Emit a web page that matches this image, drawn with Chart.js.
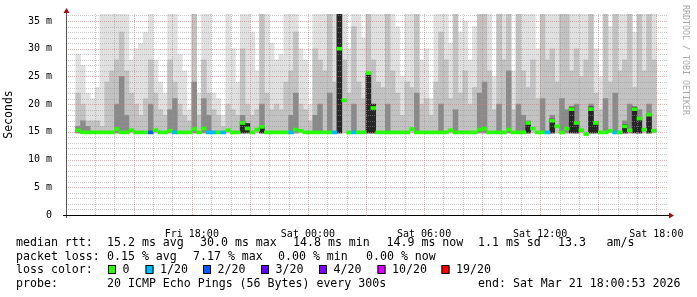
<!DOCTYPE html>
<html>
<head>
<meta charset="utf-8">
<script src="https://cdn.jsdelivr.net/npm/chart.js@4.4.0/dist/chart.umd.min.js"></script>
<style>
html, body { margin: 0; padding: 0; background: #fff; }
#wrap { width: 697px; height: 297px; }
</style>
</head>
<body>
<div id="wrap"><canvas id="smoke" width="697" height="297"></canvas></div>
<script>
// Tempo: minuti dall'inizio del grafico (Fri 12:00), un campione ogni 15 minuti
var stepMinutes = 15;
var tickMinutes = [360, 720, 1080, 1440, 1800];
var tickNames = ["Fri 18:00", "Sat 00:00", "Sat 06:00", "Sat 12:00", "Sat 18:00"];

// Fumo (smoke): limite superiore di ogni strato, in ms (37 = fuori scala)
var lightTop = [29,27,22,21,23,37,37,37,37,37,37,28,30,31,33,37,28,24,22,37,37,29,26,19,37,22,37,37,22,21,
                18,37,30,24,37,37,33,26,37,37,31,28,29,37,37,37,30,28,20,37,37,37,37,37,37,37,30,37,37,32,
                37,37,37,37,37,37,34,25,37,37,37,28,30,21,37,37,37,31,37,33,35,28,34,37,37,37,25,37,37,37,
                26,37,37,37,37,30,37,37,37,37,37,37,37,37,37,37,37,30,25,37,34,37,37,37,37,33,37,37,37,37];
var midTop = [22,20,17,17,17,16,24,26,28,33,26,22,20,18,21,28,22,19,18,28,24,20,18,17,37,18,28,22,19,18,
              16,20,19,18,30,20,18,19,37,22,19,20,19,24,26,33,20,19,17,30,28,26,37,24,37,28,22,34,24,21,
              37,28,24,23,37,26,22,18,24,23,37,20,21,18,24,33,28,21,37,22,26,20,23,37,37,26,19,37,28,37,
              19,37,26,23,28,21,37,28,30,24,37,37,26,30,25,28,37,22,19,37,24,37,26,28,37,23,37,26,37,28];
var darkTop = [16,17,16,null,null,null,null,null,20,25,18,null,null,null,null,20,null,null,null,19,21,null,null,null,24,null,21,18,null,null,
               null,null,null,null,18,null,null,null,20,null,null,null,null,null,18,22,null,null,null,18,20,null,22,null,37,null,null,20,null,null,
               25,18,null,null,20,null,null,null,null,null,22,null,null,null,null,20,null,null,19,null,null,null,null,22,24,null,null,20,null,26,
               null,20,18,17,null,null,21,null,18,null,21,19,null,20,null,null,20,null,null,21,null,22,null,17,20,null,19,null,20,null];
var blackTop = [null,null,null,null,null,null,null,null,null,null,null,null,null,null,null,null,null,null,null,null,null,null,null,null,null,null,null,null,null,null,
                null,null,null,null,16.8,16.5,null,null,15.8,null,null,null,null,null,null,null,null,null,null,null,null,null,null,null,37,null,null,null,null,null,
                25.6,20,null,null,null,null,null,null,null,null,null,null,null,null,null,null,null,null,null,null,null,null,null,null,null,null,null,null,null,null,
                null,null,null,16.8,null,null,null,null,17.3,null,null,null,19.5,16.8,null,null,19.5,16.8,null,null,null,null,null,16.3,null,19.5,17.6,null,18.3,null];
var smokeBase = 14.8;

// Mediana (ms) e perdita pacchetti (in ventesimi) per campione
var median = [15.3,14.9,14.9,14.9,14.9,14.9,14.9,14.9,15.5,14.9,14.9,15.3,14.9,14.9,14.9,14.9,15.3,14.9,14.9,15.2,14.9,14.9,14.9,14.9,15.5,14.9,15.6,14.9,14.9,14.9,
              14.9,15.3,14.9,14.9,16.6,15.6,14.9,15.4,15.9,14.9,14.9,14.9,14.9,14.9,14.9,15.4,15.2,14.9,14.9,14.9,14.9,14.9,14.9,14.9,30.0,20.7,14.9,14.9,14.9,14.9,
              25.6,19.3,14.9,14.9,14.9,14.9,14.9,14.9,14.9,15.5,14.9,14.9,14.9,14.9,14.9,14.9,14.9,15.3,14.9,14.9,14.9,14.9,14.9,15.4,15.6,14.9,14.9,14.9,14.9,15.4,
              14.9,14.9,14.9,16.6,15.6,14.9,14.9,14.9,17.0,16.0,14.9,15.6,19.1,16.6,15.3,14.6,19.1,16.6,14.9,14.9,15.2,14.9,14.9,16.0,15.3,19.1,17.4,15.4,18.1,15.2];
var loss = [0,0,0,0,0,0,0,0,0,0,0,0,0,0,0,2,0,0,0,0,1,0,0,0,0,0,0,1,1,0,
            1,0,0,0,0,0,0,0,0,0,0,0,0,0,1,0,0,0,0,0,0,0,0,1,0,0,0,1,0,0,
            0,0,0,0,0,0,0,0,0,0,0,0,0,0,0,0,0,0,0,0,0,0,0,0,0,0,0,0,0,0,
            0,0,0,0,0,0,0,1,0,0,0,0,0,0,0,0,0,0,0,0,0,1,0,0,0,0,0,0,0,0];

// Colori della perdita
var lossSteps = [0, 1, 2, 3, 4, 10, 19];
var lossNames = ["0", "1/20", "2/20", "3/20", "4/20", "10/20", "19/20"];
var lossColors = ["#26ff00", "#00b8ff", "#0059ff", "#5e00ff", "#7e00ff", "#dd00ff", "#ff0000"];

function colorFor(l) {
    return lossColors[lossSteps.indexOf(l)];
}
function mid(i) { return i * stepMinutes + stepMinutes / 2; }
function smokeData(tops) {
    var out = [];
    tops.forEach(function (v, i) {
        if (v !== null) out.push({ x: mid(i), y: [smokeBase, v] });
    });
    return out;
}
var medLine = median.map(function (m, i) { return { x: mid(i), y: [m - 0.27, m + 0.27] }; });

var barCommon = { type: 'bar', grouped: false, barPercentage: 1, categoryPercentage: 1, borderWidth: 0 };
var monoFont = "'DejaVu Sans Mono', monospace";
var majorGrid = 'rgba(225,120,120,0.6)';
var minorGrid = 'rgba(150,150,150,0.5)';

// Griglia punteggiata sopra il fumo, ma sotto la mediana
var gridOnTop = {
    id: 'gridOnTop',
    afterDatasetDraw: function (chart, args) {
        if (args.index !== 1) return;
        var c = chart.ctx, a = chart.chartArea, xs = chart.scales.x, ys = chart.scales.y;
        c.save();
        c.lineWidth = 1;
        c.setLineDash([1, 1]);
        xs.ticks.forEach(function (t) {
            if (t.value === 0) return;
            var px = Math.round(xs.getPixelForValue(t.value)) + 0.5;
            c.strokeStyle = t.value % 180 === 0 ? majorGrid : minorGrid;
            c.beginPath(); c.moveTo(px, a.top); c.lineTo(px, a.bottom); c.stroke();
        });
        ys.ticks.forEach(function (t) {
            if (t.value === 0) return;
            var py = Math.round(ys.getPixelForValue(t.value)) + 0.5;
            c.strokeStyle = t.value % 5 === 0 ? majorGrid : minorGrid;
            c.beginPath(); c.moveTo(a.left, py); c.lineTo(a.right + 2, py); c.stroke();
        });
        c.restore();
    }
};

// Assi, frecce, testo verticale e legenda in basso
var decorations = {
    id: 'decorations',
    afterDraw: function (chart) {
        var c = chart.ctx;
        c.save();
        c.strokeStyle = '#555';
        c.lineWidth = 1;
        c.beginPath(); c.moveTo(66.5, 11); c.lineTo(66.5, 218); c.stroke();
        c.strokeStyle = '#000';
        c.beginPath(); c.moveTo(63, 215.5); c.lineTo(670, 215.5); c.stroke();
        c.fillStyle = '#a01010';
        c.beginPath(); c.moveTo(63.5, 13); c.lineTo(69.5, 13); c.lineTo(66.5, 8); c.closePath(); c.fill();
        c.beginPath(); c.moveTo(669, 212.5); c.lineTo(669, 218.5); c.lineTo(674, 215.5); c.closePath(); c.fill();

        c.save();
        c.translate(685, 5);
        c.rotate(Math.PI / 2);
        c.fillStyle = '#aaa';
        c.font = "8.3px " + monoFont;
        c.textBaseline = 'middle';
        c.fillText('RRDTOOL / TOBI OETIKER', 0, 0);
        c.restore();

        c.fillStyle = '#000';
        c.font = "11.6px " + monoFont;
        c.textBaseline = 'alphabetic';
        var rows = [
            [[16, 'median rtt:'], [107, '15.2 ms avg'], [200, '30.0 ms max'], [293, '14.8 ms min'], [386.5, '14.9 ms now'], [478, '1.1 ms sd'], [558, '13.3'], [606.5, 'am/s']],
            [[16, 'packet loss:'], [107, '0.15 % avg'], [193, '7.17 % max'], [278, '0.00 % min'], [366, '0.00 % now']],
            [[16, 'loss color:']],
            [[16, 'probe:'], [107, '20 ICMP Echo Pings (56 Bytes) every 300s'], [478, 'end: Sat Mar 21 18:00:53 2026']]
        ];
        var base = [245.5, 259.5, 273.3, 287];
        rows.forEach(function (row, r) {
            row.forEach(function (p) { c.fillText(p[1], p[0], base[r]); });
        });
        var boxX = [108, 145.5, 203, 261, 319, 377.5, 441.5];
        lossNames.forEach(function (name, k) {
            c.fillStyle = lossColors[k];
            c.fillRect(boxX[k], 265.5, 8, 8);
            c.strokeStyle = '#000';
            c.strokeRect(boxX[k] + 0.5, 265.5, 7, 8);
            c.fillStyle = '#000';
            c.fillText(name, boxX[k] + 14.5, base[2]);
        });
        c.restore();
    }
};

var ctx = document.getElementById('smoke').getContext('2d');
var chart = new Chart(ctx, {
    data: {
        datasets: [
            Object.assign({}, barCommon, { label: 'median', data: medLine, backgroundColor: loss.map(colorFor), order: 0 }),
            Object.assign({}, barCommon, { label: 'black', data: smokeData(blackTop), backgroundColor: '#262626', order: 1 }),
            Object.assign({}, barCommon, { label: 'dark', data: smokeData(darkTop), backgroundColor: '#8a8a8a', order: 2 }),
            Object.assign({}, barCommon, { label: 'mid', data: smokeData(midTop), backgroundColor: '#c2c2c2', order: 3 }),
            Object.assign({}, barCommon, { label: 'light', data: smokeData(lightTop), backgroundColor: '#e0e0e0', order: 4 })
        ]
    },
    options: {
        responsive: false,
        animation: false,
        devicePixelRatio: 1,
        layout: { padding: { left: 0, right: 31, top: 14, bottom: 0 } },
        plugins: { legend: { display: false }, tooltip: { enabled: false } },
        scales: {
            x: {
                type: 'linear',
                min: 0,
                max: 1800,
                afterBuildTicks: function (s) {
                    var t = [];
                    for (var m = 0; m <= 1800; m += 60) t.push({ value: m });
                    s.ticks = t;
                },
                afterFit: function (s) { s.height = 82; },
                ticks: {
                    autoSkip: false,
                    maxRotation: 0,
                    padding: 5,
                    color: '#000',
                    font: { family: monoFont, size: 10 },
                    callback: function (v) {
                        var k = tickMinutes.indexOf(v);
                        return k >= 0 ? tickNames[k] : '';
                    }
                },
                grid: { display: false },
                border: { display: false }
            },
            y: {
                min: 0,
                max: 36.26,
                afterBuildTicks: function (s) {
                    var t = [];
                    for (var v = 0; v <= 36; v++) t.push({ value: v });
                    s.ticks = t;
                },
                afterFit: function (s) { s.width = 66; },
                ticks: {
                    autoSkip: false,
                    padding: 6,
                    color: '#000',
                    font: { family: monoFont, size: 10 },
                    callback: function (v) {
                        if (v % 5 !== 0) return '';
                        return v === 0 ? '0' : v + ' m';
                    }
                },
                title: {
                    display: true,
                    text: 'Seconds',
                    color: '#000',
                    font: { family: monoFont, size: 11.5 },
                    padding: { top: 2, bottom: 2 }
                },
                grid: { display: false },
                border: { display: false }
            }
        }
    },
    plugins: [gridOnTop, decorations]
});
</script>
</body>
</html>
